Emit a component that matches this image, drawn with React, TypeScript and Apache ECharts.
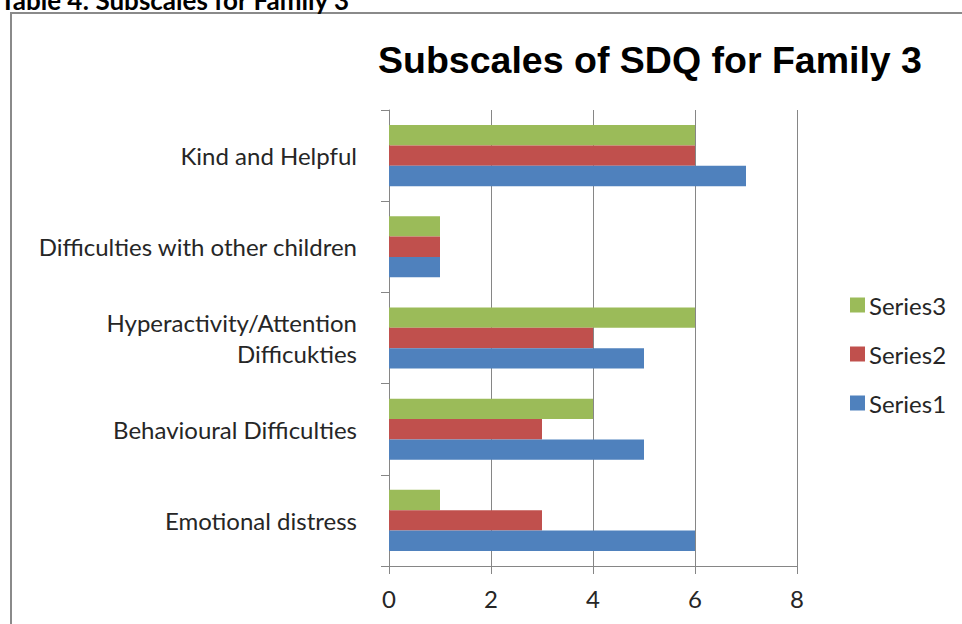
import React, { useEffect, useRef } from "react";
import * as echarts from "echarts";

const categories = [
  "Emotional distress",
  "Behavioural Difficulties",
  "Hyperactivity/Attention\nDifficukties",
  "Difficulties with other children",
  "Kind and Helpful",
];
const series1 = [6, 5, 5, 1, 7];
const series2 = [3, 3, 4, 1, 6];
const series3 = [1, 4, 6, 1, 6];
const xTicks = [0, 2, 4, 6, 8];

const labelFont = "Lato, 'Open Sans', sans-serif";
const textColor = "#262626";

export default function App() {
  const ref = useRef<HTMLDivElement>(null);
  useEffect(() => {
    if (!ref.current) return;
    const chart = echarts.init(ref.current, null, { renderer: "svg" });
    chart.setOption({
      animation: false,
      backgroundColor: "#ffffff",
      title: {
        text: "Subscales of SDQ for Family 3",
        left: 645,
        top: 36,
        textAlign: "center",
        textStyle: {
          fontFamily: "Liberation Sans, Arial, sans-serif",
          fontWeight: "bold",
          fontSize: 37.5,
          color: "#000000",
        },
      },
      graphic: [
        {
          type: "rect",
          shape: { x: 11, y: 13, width: 1000, height: 700 },
          style: { fill: "none", stroke: "#8a8a8a", lineWidth: 2 },
          z: 0,
        },
        {
          type: "text",
          x: 0,
          y: 13,
          style: {
            text: "Table 4: Subscales for Family 3",
            font: "bold 26px Lato, 'Open Sans', sans-serif",
            fill: "#000000",
            verticalAlign: "bottom",
          },
        },
      ],
      legend: {
        orient: "vertical",
        left: 845,
        top: 288,
        itemGap: 25,
        itemWidth: 15,
        itemHeight: 15,
        itemStyle: { borderWidth: 0 },
        icon: "rect",
        data: ["Series3", "Series2", "Series1"],
        textStyle: { fontFamily: labelFont, fontSize: 24, color: textColor, padding: [0, 0, 0, -1] },
      },
      grid: { left: 389, right: 165, top: 110, bottom: 58, containLabel: false },
      xAxis: {
        type: "value",
        min: 0,
        max: 8,
        interval: 2,
        axisLine: { show: true, lineStyle: { color: "#868686", width: 1 } },
        axisTick: { show: true, length: 8, lineStyle: { color: "#868686" } },
        axisLabel: {
          fontFamily: labelFont,
          fontSize: 24,
          color: textColor,
          margin: 20,
          formatter: (v: number) => (xTicks.includes(v) ? String(v) : ""),
        },
        splitLine: { show: true, lineStyle: { color: "#868686", width: 1 } },
      },
      yAxis: {
        type: "category",
        data: categories,
        axisLine: { show: true, lineStyle: { color: "#868686", width: 1 } },
        axisTick: { show: true, length: 8, lineStyle: { color: "#868686" } },
        axisLabel: {
          fontFamily: labelFont,
          fontSize: 24,
          color: textColor,
          margin: 32,
          lineHeight: 31,
          align: "right",
        },
      },
      series: [
        {
          name: "Series3",
          type: "bar",
          data: series3,
          itemStyle: { color: "#9BBB59" },
          barGap: "0%",
          barCategoryGap: "33%",
        },
        {
          name: "Series2",
          type: "bar",
          data: series2,
          itemStyle: { color: "#C0504D" },
          barGap: "0%",
          barCategoryGap: "33%",
        },
        {
          name: "Series1",
          type: "bar",
          data: series1,
          itemStyle: { color: "#4F81BD" },
          barGap: "0%",
          barCategoryGap: "33%",
        },
      ],
    });
    return () => chart.dispose();
  }, []);
  return (
    <div
      ref={ref}
      style={{ position: "fixed", left: 0, top: 0, width: 962, height: 624 }}
    />
  );
}
